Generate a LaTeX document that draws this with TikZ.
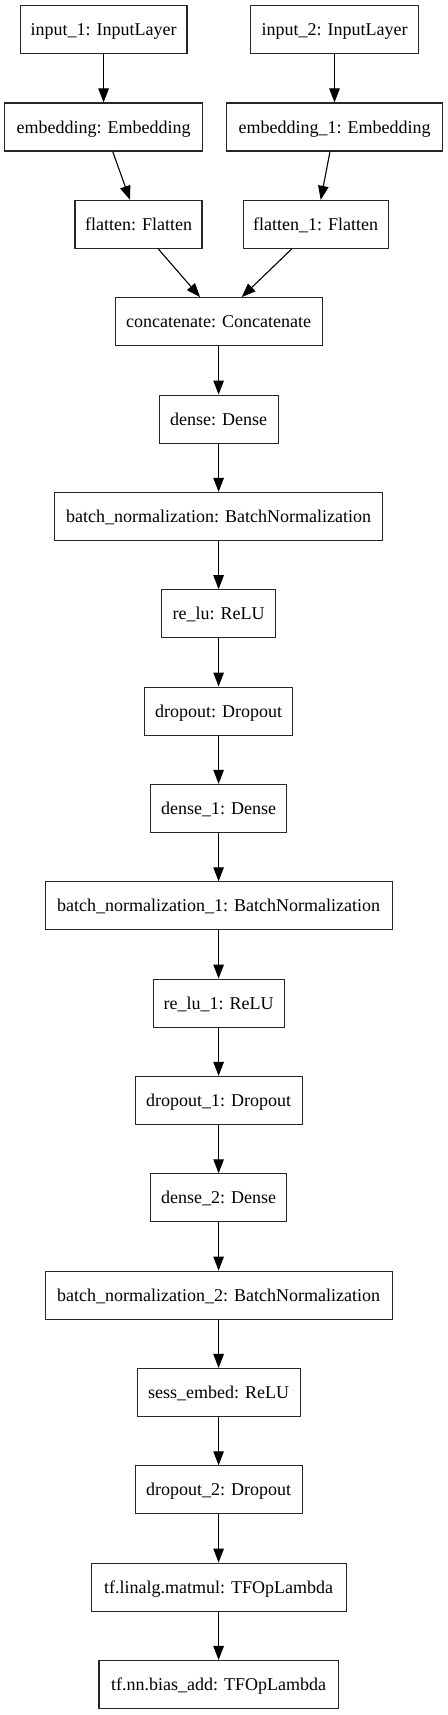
\documentclass[tikz,border=0pt]{standalone}
\usepackage{fontspec}
\setmainfont{Liberation Serif}
\usetikzlibrary{arrows.meta}
\begin{document}
\begin{tikzpicture}[x=1pt,y=1pt,
  layer/.style={draw=black!85, line width=1.1pt, minimum height=48pt, inner sep=0pt,
    text height=12.2pt, text depth=0pt, font=\fontsize{18}{21}\selectfont},
  conn/.style={line width=1.1pt, -{Triangle[length=14pt,width=10.5pt]}}]
\useasboundingbox (0,0) rectangle (447,-1715);
\node[layer, minimum width=166.7pt] (in1) at (103.6,-29.7) {input\_1: InputLayer};
\node[layer, minimum width=167.3pt] (in2) at (334.5,-29.7) {input\_2: InputLayer};
\node[layer, minimum width=197.7pt] (emb) at (103.6,-127.0) {embedding: Embedding};
\node[layer, minimum width=215.3pt] (emb1) at (334.5,-127.0) {embedding\_1: Embedding};
\node[layer, minimum width=127pt] (flat) at (138.5,-224.4) {flatten: Flatten};
\node[layer, minimum width=145.3pt] (flat1) at (315.7,-224.4) {flatten\_1: Flatten};
\node[layer, minimum width=207pt] (cat) at (218.6,-321.7) {concatenate: Concatenate};
\node[layer, minimum width=119pt] (d0) at (218.6,-419.1) {dense: Dense};
\node[layer, minimum width=328.3pt] (bn0) at (218.6,-516.4) {batch\_normalization: BatchNormalization};
\node[layer, minimum width=113.7pt] (r0) at (218.6,-613.7) {re\_lu: ReLU};
\node[layer, minimum width=148.3pt] (do0) at (218.6,-711.1) {dropout: Dropout};
\node[layer, minimum width=136.3pt] (d1) at (218.6,-808.4) {dense\_1: Dense};
\node[layer, minimum width=347pt] (bn1) at (218.6,-905.8) {batch\_normalization\_1: BatchNormalization};
\node[layer, minimum width=131pt] (r1) at (218.6,-1003.1) {re\_lu\_1: ReLU};
\node[layer, minimum width=167pt] (do1) at (218.6,-1100.4) {dropout\_1: Dropout};
\node[layer, minimum width=136.3pt] (d2) at (218.6,-1197.8) {dense\_2: Dense};
\node[layer, minimum width=347pt] (bn2) at (218.6,-1295.1) {batch\_normalization\_2: BatchNormalization};
\node[layer, minimum width=163pt] (se) at (218.6,-1392.5) {sess\_embed: ReLU};
\node[layer, minimum width=167pt] (do2) at (218.6,-1489.8) {dropout\_2: Dropout};
\node[layer, minimum width=255pt] (mm) at (218.6,-1587.1) {tf.linalg.matmul: TFOpLambda};
\node[layer, minimum width=239.3pt] (ba) at (218.6,-1684.5) {tf.nn.bias\_add: TFOpLambda};
\draw[conn] (in1) -- (emb);
\draw[conn] (in2) -- (emb1);
\draw[conn] ([xshift=9.1pt]emb.south) -- ([xshift=-8.5pt]flat.north);
\draw[conn] ([xshift=-4.5pt]emb1.south) -- ([xshift=5pt]flat1.north);
\draw[conn] ([xshift=19.8pt]flat.south) -- ([xshift=-18.5pt]cat.north);
\draw[conn] ([xshift=-24pt]flat1.south) -- ([xshift=23.1pt]cat.north);
\draw[conn] (cat) -- (d0);
\draw[conn] (d0) -- (bn0);
\draw[conn] (bn0) -- (r0);
\draw[conn] (r0) -- (do0);
\draw[conn] (do0) -- (d1);
\draw[conn] (d1) -- (bn1);
\draw[conn] (bn1) -- (r1);
\draw[conn] (r1) -- (do1);
\draw[conn] (do1) -- (d2);
\draw[conn] (d2) -- (bn2);
\draw[conn] (bn2) -- (se);
\draw[conn] (se) -- (do2);
\draw[conn] (do2) -- (mm);
\draw[conn] (mm) -- (ba);
\end{tikzpicture}
\end{document}
